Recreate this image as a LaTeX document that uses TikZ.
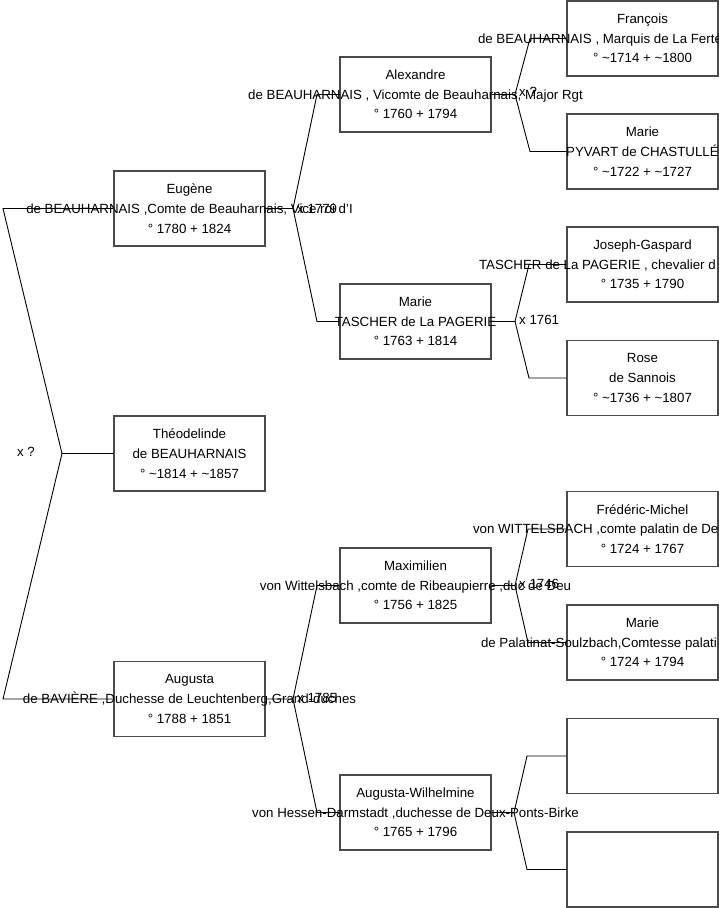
\documentclass[tikz,border=0pt]{standalone}
\usepackage{fontspec}
\setmainfont{Liberation Sans}
\begin{document}
\begin{tikzpicture}[x=1pt,y=-1pt,
  pbox/.style={draw=boxgray,line width=1.3pt,minimum width=151pt,minimum height=75pt,inner sep=0pt},
  ptext/.style={font=\fontsize{13.3}{19.7}\selectfont,align=center,inner sep=0pt},
  mlabel/.style={font=\fontsize{13.3}{15}\selectfont,anchor=west,inner sep=1pt},
  conn/.style={draw=black,line width=0.9pt}]
\definecolor{boxgray}{HTML}{4A4A4A}
\useasboundingbox (0,0) rectangle (719,908);
% boxes
\node[pbox] (eug)  at (189.5,208.5) {};
\node[pbox] (theo) at (189.5,453.5) {};
\node[pbox] (aug)  at (189.5,699) {};
\node[pbox] (alex) at (415.5,94.5) {};
\node[pbox] (mtas) at (415.5,321.5) {};
\node[pbox] (maxi) at (415.5,585.5) {};
\node[pbox] (augw) at (415.5,812.5) {};
\node[pbox] (fran) at (642.5,38.5) {};
\node[pbox] (mpyv) at (642.5,151.5) {};
\node[pbox] (jgas) at (642.5,264.5) {};
\node[pbox] (rose) at (642.5,378) {};
\node[pbox] (fred) at (642.5,529) {};
\node[pbox] (mpal) at (642.5,642.5) {};
\node[pbox] (emp1) at (642.5,756) {};
\node[pbox] (emp2) at (642.5,869.5) {};
% texts
\node[ptext] at (eug) {Eugène\\de BEAUHARNAIS ,Comte de Beauharnais, Vice roi d'I\\° 1780 + 1824};
\node[ptext] at (theo) {Théodelinde\\de BEAUHARNAIS\\° \textasciitilde 1814 + \textasciitilde 1857};
\node[ptext] at (aug) {Augusta\\de BAVIÈRE ,Duchesse de Leuchtenberg,Grand-duches\\° 1788 + 1851};
\node[ptext] at (alex) {Alexandre\\de BEAUHARNAIS , Vicomte de Beauharnais, Major Rgt\\° 1760 + 1794};
\node[ptext] at (mtas) {Marie\\TASCHER de La PAGERIE\\° 1763 + 1814};
\node[ptext] at (maxi) {Maximilien\\von Wittelsbach ,comte de Ribeaupierre ,duc de Deu\\° 1756 + 1825};
\node[ptext] at (augw) {Augusta-Wilhelmine\\von Hessen-Darmstadt ,duchesse de Deux-Ponts-Birke\\° 1765 + 1796};
\node[ptext] at (fran) {François\\\makebox[329pt][l]{de BEAUHARNAIS , Marquis de La Ferté}\\° \textasciitilde 1714 + \textasciitilde 1800};
\node[ptext] at (mpyv) {Marie\\PYVART de CHASTULLÉ\\° \textasciitilde 1722 + \textasciitilde 1727};
\node[ptext] at (jgas) {Joseph-Gaspard\\\makebox[327pt][l]{TASCHER de La PAGERIE ,  chevalier d}\\° 1735 + 1790};
\node[ptext] at (rose) {Rose\\de Sannois\\° \textasciitilde 1736 + \textasciitilde 1807};
\node[ptext] at (fred) {Frédéric-Michel\\\makebox[339pt][l]{von WITTELSBACH ,comte palatin de De}\\° 1724 + 1767};
\node[ptext] at (mpal) {Marie\\\makebox[323pt][l]{de Palatinat-Soulzbach,Comtesse palati}\\° 1724 + 1794};
% fork points
\coordinate (f0) at (62,453.5);
\coordinate (f0a) at (3,208.5);
\coordinate (f0b) at (3,699);
\coordinate (f1) at (293,208.5);
\coordinate (f1a) at (317,94.5);
\coordinate (f1b) at (317,321.5);
\coordinate (f2) at (515,94.5);
\coordinate (f2a) at (530,38.5);
\coordinate (f2b) at (530,151.5);
\coordinate (f3) at (515,321.5);
\coordinate (f3a) at (529,264.5);
\coordinate (f3b) at (529,378);
\coordinate (f4) at (293,699);
\coordinate (f4a) at (317,585.5);
\coordinate (f4b) at (317,812.5);
\coordinate (f5) at (515,585.5);
\coordinate (f5a) at (528,529);
\coordinate (f5b) at (528,642.5);
\coordinate (f6) at (514,812.5);
\coordinate (f6a) at (527,756);
\coordinate (f6b) at (527,869.5);
% labels
\node[mlabel,anchor=center] (l0) at (26,452) {x ?};
\node[mlabel] (l1) at (296,208.5) {x 1779};
\node[mlabel] (l2) at (518,92) {x ?};
\node[mlabel] (l3) at (518,320) {x 1761};
\node[mlabel] (l4) at (296,698) {x 1785};
\node[mlabel] (l5) at (518,584) {x 1746};
% connectors
\draw[conn] (theo.west) -- (f0) -- (f0a) -- (eug.west |- f0a);
\draw[conn] (f0) -- (f0b) -- (aug.west |- f0b);
\draw[conn] (eug.east) -- (f1) -- (f1a) -- (alex.west);
\draw[conn] (f1) -- (f1b) -- (mtas.west);
\draw[conn] (alex.east) -- (f2) -- (f2a) -- (fran.west);
\draw[conn] (f2) -- (f2b) -- (mpyv.west);
\draw[conn] (mtas.east) -- (f3) -- (f3a) -- (jgas.west);
\draw[conn] (f3) -- (f3b) -- (rose.west);
\draw[conn] (aug.east) -- (f4) -- (f4a) -- (maxi.west);
\draw[conn] (f4) -- (f4b) -- (augw.west);
\draw[conn] (maxi.east) -- (f5) -- (f5a) -- (fred.west);
\draw[conn] (f5) -- (f5b) -- (mpal.west);
\draw[conn] (augw.east) -- (f6) -- (f6a) -- (emp1.west);
\draw[conn] (f6) -- (f6b) -- (emp2.west);
\end{tikzpicture}
\end{document}
